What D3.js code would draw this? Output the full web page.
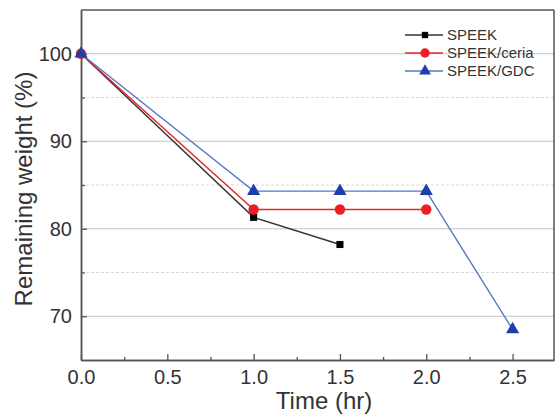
<!DOCTYPE html>
<html>
<head>
<meta charset="utf-8">
<script src="https://cdn.jsdelivr.net/npm/d3@7"></script>
<style>
  body { margin: 0; background: #fff; }
  svg { display: block; font-family: "Liberation Sans", Arial, sans-serif; }
</style>
</head>
<body>
<div id="chart"></div>
<script>
// data
const timeSpeek = [0, 1.0, 1.5];
const speek = [100, 81.3, 78.2];
const timeCeria = [0, 1.0, 1.5, 2.0];
const ceria = [100, 82.2, 82.2, 82.2];
const timeGdc = [0, 1.0, 1.5, 2.0, 2.5];
const gdc = [100, 84.3, 84.3, 84.3, 68.5];

const seriesNames = ['SPEEK', 'SPEEK/ceria', 'SPEEK/GDC'];
const xTicks = [0, 0.5, 1.0, 1.5, 2.0, 2.5];
const xMinor = [0.25, 0.75, 1.25, 1.75, 2.25];
const yTicks = [70, 80, 90, 100];
const yMinor = [75, 85, 95];

const width = 556, height = 415;
const margin = { top: 10, right: 2, bottom: 55, left: 81 };
const plotW = width - margin.left - margin.right;
const plotH = height - margin.top - margin.bottom;

const svg = d3.select('#chart').append('svg')
  .attr('width', width).attr('height', height);

const g = svg.append('g').attr('transform', `translate(${margin.left},${margin.top})`);

const x = d3.scaleLinear().domain([0, 2.74]).range([0, plotW]);
const y = d3.scaleLinear().domain([65, 105]).range([plotH, 0]);

// grid lines
g.selectAll('.grid-major').data(yTicks).join('line')
  .attr('x1', 0).attr('x2', plotW)
  .attr('y1', d => y(d)).attr('y2', d => y(d))
  .attr('stroke', '#c4c4c4').attr('stroke-width', 1);
g.selectAll('.grid-minor').data(yMinor).join('line')
  .attr('x1', 0).attr('x2', plotW)
  .attr('y1', d => y(d)).attr('y2', d => y(d))
  .attr('stroke', '#d8d8d8').attr('stroke-width', 1)
  .attr('stroke-dasharray', '3,2');

// frame (top + right)
g.append('line').attr('x1', 0).attr('x2', plotW).attr('y1', 0).attr('y2', 0)
  .attr('stroke', '#555').attr('stroke-width', 1.5);
g.append('line').attr('x1', plotW).attr('x2', plotW).attr('y1', 0).attr('y2', plotH)
  .attr('stroke', '#555').attr('stroke-width', 1.5);

// axes, ticks pointing inward
const xAxis = g.append('g').attr('transform', `translate(0,${plotH})`)
  .call(d3.axisBottom(x).tickValues(xTicks).tickFormat(d3.format('.1f'))
    .tickSizeInner(-6).tickSizeOuter(0).tickPadding(10));
g.append('g').attr('transform', `translate(0,${plotH})`)
  .call(d3.axisBottom(x).tickValues(xMinor).tickFormat('')
    .tickSizeInner(-3).tickSizeOuter(0));

const yAxis = g.append('g')
  .call(d3.axisLeft(y).tickValues(yTicks).tickFormat(d3.format('d'))
    .tickSizeInner(-6).tickSizeOuter(0).tickPadding(9));
g.append('g')
  .call(d3.axisLeft(y).tickValues(yMinor).tickFormat('')
    .tickSizeInner(-4).tickSizeOuter(0));

g.selectAll('.domain').attr('stroke', '#555').attr('stroke-width', 1.5);
g.selectAll('.tick line').attr('stroke', '#555').attr('stroke-width', 1.3);
g.selectAll('.tick text').attr('font-size', '20px').attr('fill', '#333')
  .attr('font-family', '"Liberation Sans", Arial, sans-serif');

// axis titles
svg.append('text')
  .attr('x', 324).attr('y', 409)
  .attr('text-anchor', 'middle')
  .attr('font-size', '24px').attr('fill', '#333')
  .text('Time (hr)');
svg.append('text')
  .attr('transform', 'rotate(-90)')
  .attr('x', -189).attr('y', 32)
  .attr('text-anchor', 'middle')
  .attr('font-size', '24px').attr('fill', '#333')
  .text('Remaining weight (%)');

// series
const series = [
  { name: seriesNames[0], xs: timeSpeek, ys: speek, line: '#333', fill: '#000', shape: d3.symbolSquare, size: 50 },
  { name: seriesNames[1], xs: timeCeria, ys: ceria, line: '#e3262b', fill: '#ee1c24', shape: d3.symbolCircle, size: 85 },
  { name: seriesNames[2], xs: timeGdc, ys: gdc, line: '#5577c4', fill: '#1e3fa8', shape: d3.symbolTriangle, size: 75 }
];

const line = d3.line().x(d => x(d[0])).y(d => y(d[1]));

series.forEach(s => {
  const pts = s.xs.map((t, i) => [t, s.ys[i]]);
  g.append('path').datum(pts)
    .attr('d', line)
    .attr('fill', 'none')
    .attr('stroke', s.line)
    .attr('stroke-width', 1.4);
  g.selectAll(null).data(pts).join('path')
    .attr('transform', d => `translate(${x(d[0])},${y(d[1])})`)
    .attr('d', d3.symbol().type(s.shape).size(s.size))
    .attr('fill', s.fill);
});

// legend
const legend = svg.append('g').attr('transform', 'translate(405,35)');
series.forEach((s, i) => {
  const row = legend.append('g').attr('transform', `translate(0,${i * 18})`);
  row.append('line').attr('x1', 0).attr('x2', 38).attr('y1', 0).attr('y2', 0)
    .attr('stroke', s.line).attr('stroke-width', 1.4);
  row.append('path').attr('transform', 'translate(20,0)')
    .attr('d', d3.symbol().type(s.shape).size(s.size * 0.8))
    .attr('fill', s.fill);
  row.append('text').attr('x', 42).attr('y', 0).attr('dy', '0.36em')
    .attr('font-size', '15px').attr('fill', '#333')
    .text(s.name);
});
</script>
</body>
</html>
